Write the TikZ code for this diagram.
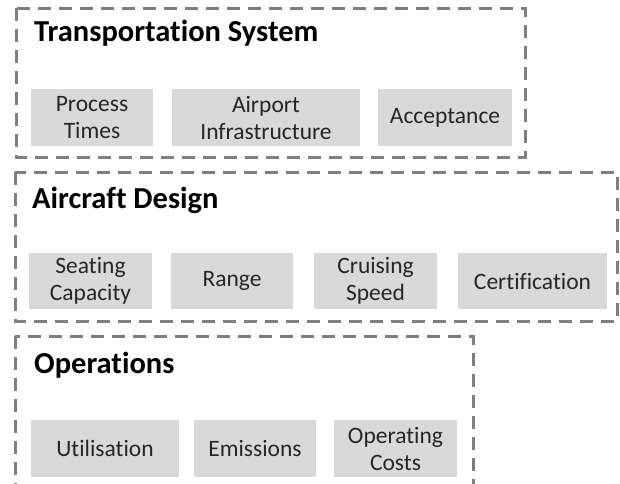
\documentclass[tikz,border=0pt]{standalone}
\usepackage{fontspec}
\setmainfont{Carlito}[Ligatures=NoCommon]
\definecolor{boxgray}{HTML}{D9D9D9}
\definecolor{dashgray}{HTML}{7F7F7F}
\tikzset{
  container/.style={draw=dashgray, line width=3pt, dash pattern=on 13pt off 8pt},
  item/.style={fill=boxgray, draw=none, inner sep=0pt, align=center, text=black!85,
    font=\fontsize{23.5}{27}\selectfont},
  title/.style={anchor=base west, inner sep=0pt, font=\fontsize{30.5}{34}\selectfont\bfseries}
}
\begin{document}
\begin{tikzpicture}[x=1pt,y=-1pt]
\useasboundingbox (0,0) rectangle (620,483);
\fill[white] (0,0) rectangle (620,483);
\begin{scope}
\clip (0,0) rectangle (620,483);
\draw[container] (16,8) rectangle (525,157);
\draw[container] (15,172) rectangle (617,321);
\draw[container] (15,336) rectangle (473,500);
\end{scope}
\node[title] (t1) at (34,41) {Transportation System};
\node[title] (t2) at (32,208) {Aircraft Design};
\node[title] (t3) at (34,373) {Operations};
% row 1
\node[item, minimum width=122pt, minimum height=57pt] (pt) at (92,117.5) {Process\\Times};
\node[item, minimum width=188pt, minimum height=57pt] (ai) at (266,117.5) {Airport\\Infrastructure};
\node[item, minimum width=134pt, minimum height=57pt] (acc) at (445,117.5) {Acceptance};
% row 2
\node[item, minimum width=123pt, minimum height=56pt] (sc) at (90.5,281) {Seating\\Capacity};
\node[item, minimum width=122pt, minimum height=56pt] (rg) at (232,281) {Range};
\node[item, minimum width=123pt, minimum height=56pt] (cs) at (375.5,281) {Cruising\\Speed};
\node[item, minimum width=149pt, minimum height=56pt] (ce) at (532.5,281) {Certification};
% row 3
\node[item, minimum width=148pt, minimum height=57pt] (ut) at (105,448.5) {Utilisation};
\node[item, minimum width=122pt, minimum height=57pt] (em) at (255,448.5) {Emissions};
\node[item, minimum width=123pt, minimum height=57pt] (oc) at (395.5,448.5) {Operating\\Costs};
\end{tikzpicture}
\end{document}
